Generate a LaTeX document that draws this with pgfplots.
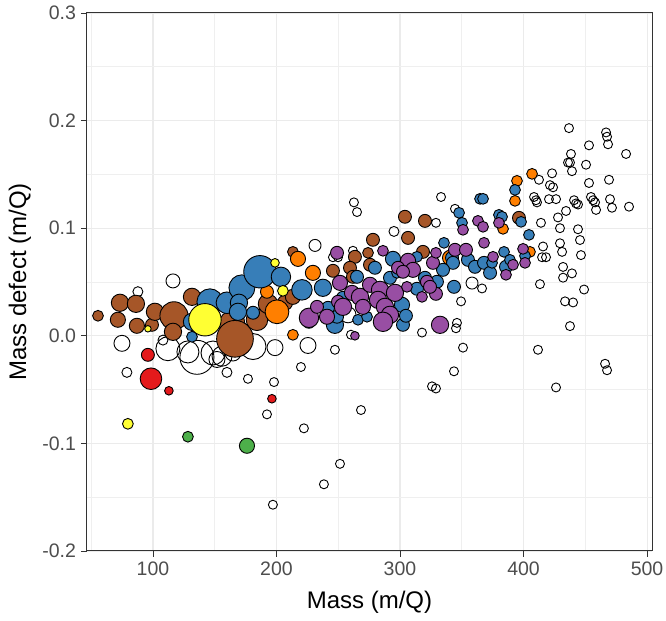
\documentclass[border=0pt]{standalone}
\usepackage{fontspec}
\setmainfont{Liberation Sans}
\usepackage{pgfplots}
\usepackage{pgfplotstable}
\pgfplotsset{compat=1.18}
\definecolor{cRed}{HTML}{E41A1C}
\definecolor{cBlue}{HTML}{377EB8}
\definecolor{cGreen}{HTML}{4DAF4A}
\definecolor{cPurple}{HTML}{984EA3}
\definecolor{cOrange}{HTML}{FF7F00}
\definecolor{cYellow}{HTML}{FFFF33}
\definecolor{cBrown}{HTML}{A65628}
\definecolor{grey30}{HTML}{4D4D4D}
\definecolor{grey20}{HTML}{333333}
\definecolor{grey92}{HTML}{EBEBEB}

\pgfplotstableread{
x y r
436.8 0.193 4.5
466.8 0.189 4.5
467.6 0.185 4.5
468.4 0.178 4.5
453.0 0.177 4.5
483.0 0.169 4.5
438.4 0.169 4.5
436.0 0.161 4.5
437.6 0.161 4.5
450.6 0.159 4.5
439.2 0.153 4.5
423.1 0.151 4.5
412.5 0.145 4.5
453.0 0.142 4.5
469.2 0.145 4.5
421.4 0.140 4.5
423.9 0.138 4.5
408.5 0.129 4.5
410.1 0.126 4.5
410.9 0.124 4.5
420.6 0.127 4.5
426.3 0.127 4.5
440.9 0.126 4.5
442.5 0.123 4.5
454.6 0.129 4.5
456.3 0.126 4.5
457.9 0.124 4.5
458.7 0.117 4.5
470.0 0.127 4.5
471.6 0.119 4.5
485.4 0.120 4.5
434.4 0.116 4.5
444.1 0.122 4.5
414.1 0.105 4.5
427.9 0.110 4.5
429.5 0.100 4.5
444.1 0.099 4.5
445.7 0.089 4.5
429.5 0.086 4.5
431.2 0.078 4.5
415.8 0.083 4.5
415.0 0.073 4.5
418.2 0.073 4.5
446.5 0.075 4.5
432.0 0.064 4.5
439.2 0.058 4.5
432.0 0.054 4.5
449.0 0.043 4.5
413.3 0.048 4.5
433.6 0.032 4.5
440.1 0.031 4.5
437.6 0.009 4.5
333.2 0.129 4.5
262.7 0.124 4.5
265.2 0.115 4.5
295.1 0.097 5
329.1 0.105 4.5
344.5 0.118 4.5
358.3 0.049 6
366.4 0.044 4.5
349.4 0.032 4.5
346.1 0.012 4.5
345.3 0.007 4.5
317.8 0.003 4.5
351.0 -0.011 4.5
411.7 -0.013 4.5
343.7 -0.033 4.5
325.9 -0.047 4.5
329.1 -0.049 4.5
426.3 -0.048 4.5
466.0 -0.026 4.5
467.6 -0.032 4.5
268.4 -0.069 4.5
251.4 -0.119 4.5
247.3 -0.013 4.5
260.3 0.001 4.5
261.9 0.079 4.5
245.7 0.073 4.5
249.8 0.073 4.5
231.2 0.084 6
257.9 0.0195 8
116.2 0.051 7
87.8 0.041 5
74.9 -0.007 8
78.9 -0.034 5
108.1 -0.004 5
112.1 -0.012 12
128.3 -0.015 11
135.6 -0.020 17
148.6 -0.016 12
155.9 -0.019 10
164.8 -0.016 8
181.0 -0.010 13
198.8 -0.011 8
159.9 -0.034 5
151.8 -0.022 8
176.9 -0.040 4.5
198.0 -0.043 4.5
219.8 -0.029 4.5
192.3 -0.073 4.5
222.2 -0.086 4.5
197.1 -0.157 4.5
238.4 -0.138 4.5
225.5 -0.009 8
}\openpts

\pgfplotstableread{
x y r
55.5 0.0186 5
73.3 0.0307 8
86.2 0.0297 8
71.6 0.0149 7
87.0 0.0093 7
99.2 0.0102 6
101.6 0.0223 8
117.0 0.0186 13
116.2 0.0037 8
131.6 0.0362 8
164.0 0.0111 12
166.4 -0.0028 17
184.2 0.0149 10
193.1 0.0297 9
213.3 0.0780 5
206.9 0.0307 7
213.3 0.0362 7
245.7 0.0604 6
263.5 0.0734 6
259.5 0.0632 6
261.9 0.0548 6
274.1 0.0771 5
275.7 0.0660 6
278.1 0.0892 6
304.0 0.1106 6
320.2 0.1068 6
306.5 0.0910 6
318.6 0.0780 6
396.3 0.1096 6
}\brownpts

\pgfplotstableread{
x y r
406.9 0.1505 5
394.7 0.1440 5
393.1 0.1254 5
383.4 0.0994 5
405.2 0.0780 5
340.5 0.0725 7
290.3 0.0539 4
217.4 0.0715 7
229.5 0.0585 7
192.3 0.0409 6
200.4 0.0223 11
213.3 0.0009 5
}\orangepts

\pgfplotstableread{
x y r
131.6 0.0130 8
131.6 -0.0009 5
146.1 0.0316 12
159.9 0.0307 10
172.0 0.0446 12
186.6 0.0595 15
203.6 0.0548 9
169.6 0.0307 8
168.8 0.0223 8
181.0 0.0214 6
220.6 0.0427 9.5
237.6 0.0446 8
226.3 0.0130 6
241.7 0.0260 6
247.3 0.0102 8
249.0 0.0177 6
265.2 0.0548 6
279.7 0.0632 6
291.9 0.0539 6
294.3 0.0715 7
297.6 0.0585 5
301.6 0.0288 7
302.4 0.0102 6
304.8 0.0186 6
313.7 0.0734 5
266.0 0.0149 5
273.3 0.0177 5
253.8 0.0353 6
335.6 0.0864 5
347.8 0.1143 5
350.2 0.1050 5
364.8 0.1273 5
367.2 0.1273 5
380.1 0.1124 5
382.6 0.1106 5
384.2 0.0780 5
393.1 0.1356 5
398.0 0.1059 5
404.4 0.0938 5
342.1 0.0725 6
342.9 0.0678 6
355.0 0.0706 6
360.7 0.0641 6
368.0 0.0678 6
372.9 0.0585 6
374.5 0.0678 5
385.8 0.0641 6
389.0 0.0706 5
401.2 0.0743 5
329.9 0.0502 6
343.7 0.0455 6
320.2 0.0539 6
313.7 0.0437 6
334.8 0.0613 6
}\bluepts

\pgfplotstableread{
x y r
226.3 0.0167 9
232.8 0.0269 6
240.9 0.0177 7
251.4 0.0492 7
249.8 0.0316 6
249.0 0.0771 6
253.8 0.0269 8
261.1 0.0399 7
267.6 0.0362 8
270.0 0.0269 7
286.2 0.0790 5
275.7 0.0474 7
283.8 0.0427 8
282.2 0.0334 8
295.9 0.0399 8
287.8 0.0269 8
291.9 0.0195 8
286.2 0.0130 9
306.5 0.0697 7
310.5 0.0613 7
305.6 0.0455 5
317.8 0.0362 5
326.7 0.0678 6
321.8 0.0502 6
329.1 0.0390 6
332.4 0.0102 8
263.5 0.0000 4
351.0 0.0985 5
363.1 0.1068 5
367.2 0.1013 5
368.0 0.0864 5
344.5 0.0799 6
353.4 0.0799 6
375.3 0.0734 5
391.5 0.0660 5
380.1 0.1050 5
399.6 0.0808 5
401.2 0.0678 5
385.8 0.0567 5
329.1 0.0771 5
298.4 0.0632 6
302.4 0.0595 6
324.3 0.0455 6
}\purplepts

\pgfplotstableread{
x y r
142.1 0.0149 15
95.9 0.0065 3
198.8 0.0678 4
205.2 0.0418 5
79.7 -0.0818 5
}\yellowpts

\pgfplotstableread{
x y r
95.9 -0.0177 6
98.4 -0.0399 10
112.9 -0.0511 4
196.3 -0.0585 4
}\redpts

\pgfplotstableread{
x y r
128.3 -0.0938 5
176.1 -0.1022 7
}\greenpts

\pgfplotsset{
  bubble/.style={scatter, only marks, mark=*, line width=0.9pt,
    scatter/use mapped color={draw=black, fill=#1},
    visualization depends on={1.08*\thisrow{r} \as \rr},
    scatter/@pre marker code/.append style={/tikz/mark size=\rr pt}},
}

\begin{document}
\begin{tikzpicture}
\begin{axis}[
  scale only axis, width=565pt, height=538pt,
  xmin=46.6, xmax=504, ymin=-0.2, ymax=0.3,
  xtick={100,200,300,400,500}, xticklabels={100,200,300,400,500},
  ytick={-0.2,-0.1,0,0.1,0.2,0.3}, yticklabels={-0.2,-0.1,0.0,0.1,0.2,0.3},
  minor xtick={50,150,250,350,450},
  minor ytick={-0.15,-0.05,0.05,0.15,0.25},
  grid=both,
  major grid style={draw=grey92, line width=1.1pt},
  minor grid style={draw=grey92!80, line width=0.6pt},
  minor tick length=0pt,
  major tick length=6pt,
  tick align=outside, tick pos=left,
  tick style={draw=grey20, line width=0.9pt},
  axis line style={draw=grey20, line width=1pt},
  ticklabel style={font=\fontsize{19.5}{22}\selectfont, text=grey30},
  xticklabel style={yshift=-1pt},
  yticklabel style={xshift=-1.5pt},
  xlabel={Mass (m/Q)}, ylabel={Mass defect (m/Q)},
  label style={font=\fontsize{24}{28}\selectfont, text=black},
  xlabel style={at={(axis description cs:0.5,-0.0948)}, anchor=center},
  ylabel style={at={(axis description cs:-0.1186,0.5)}, anchor=center},
]
\addplot[scatter, only marks, mark=o, line width=0.9pt,
  scatter/use mapped color={draw=black},
  visualization depends on={\thisrow{r} \as \rr},
  scatter/@pre marker code/.append style={/tikz/mark size=\rr pt}] table[x=x,y=y] {\openpts};
\addplot[bubble=cBrown] table[x=x,y=y] {\brownpts};
\addplot[bubble=cOrange] table[x=x,y=y] {\orangepts};
\addplot[bubble=cBlue] table[x=x,y=y] {\bluepts};
\addplot[bubble=cPurple] table[x=x,y=y] {\purplepts};
\addplot[bubble=cYellow] table[x=x,y=y] {\yellowpts};
\addplot[bubble=cRed] table[x=x,y=y] {\redpts};
\addplot[bubble=cGreen] table[x=x,y=y] {\greenpts};
\end{axis}
\pgfresetboundingbox
\path (current axis.south west) ++(-87pt,-70pt) rectangle ([xshift=14pt,yshift=13pt]current axis.north east);
\end{tikzpicture}
\end{document}
